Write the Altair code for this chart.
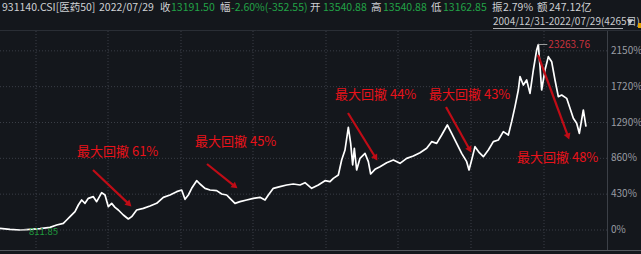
import math
import altair as alt
import pandas as pd

# ---- data ----
years = [2005.00, 2005.30, 2005.60, 2005.90, 2006.20, 2006.50, 2006.70, 2006.90,
         2007.00, 2007.10, 2007.25, 2007.35, 2007.45, 2007.55, 2007.65, 2007.80, 2007.90,
         2008.05, 2008.15, 2008.25, 2008.35, 2008.45, 2008.55, 2008.70, 2008.85, 2008.95,
         2009.10, 2009.30, 2009.50, 2009.70, 2009.90,
         2010.10, 2010.30, 2010.45, 2010.55, 2010.65, 2010.75, 2010.90,
         2011.00, 2011.15, 2011.30, 2011.50, 2011.65, 2011.80, 2011.90,
         2012.05, 2012.20, 2012.40, 2012.60, 2012.80, 2012.95,
         2013.05, 2013.20, 2013.40, 2013.60, 2013.80,
         2014.00, 2014.15, 2014.35, 2014.55, 2014.75, 2014.90,
         2015.00, 2015.15, 2015.25, 2015.35, 2015.45, 2015.52, 2015.58, 2015.63, 2015.70, 2015.80, 2015.95,
         2016.05, 2016.12, 2016.25, 2016.40, 2016.60, 2016.80,
         2017.00, 2017.20, 2017.40, 2017.60, 2017.80, 2017.95,
         2018.10, 2018.25, 2018.42, 2018.55, 2018.70, 2018.85,
         2019.00, 2019.07, 2019.15, 2019.25, 2019.38, 2019.50, 2019.65, 2019.80, 2019.95,
         2020.10, 2020.25, 2020.35, 2020.45, 2020.55, 2020.60, 2020.70, 2020.80, 2020.90,
         2021.00, 2021.10, 2021.15, 2021.20, 2021.25, 2021.35, 2021.45, 2021.55, 2021.65, 2021.75, 2021.85,
         2022.00, 2022.10, 2022.20, 2022.30, 2022.38, 2022.50, 2022.58]
pct = [20, 8, 0, 8, 16, 32, 60, 80,
       120, 160, 220, 300, 360, 320, 380, 400, 340,
       448, 420, 280, 320, 272, 240, 180, 132, 160,
       240, 260, 288, 320, 392,
       420, 460, 480, 368, 420, 500, 592,
       552, 500, 480, 472, 432, 420, 380,
       320, 340, 360, 380, 392, 360,
       420, 500, 520, 540, 552,
       540, 568, 500, 540, 592, 580,
       620, 660, 840, 960, 1232, 1040, 780, 980, 720, 860, 920,
       820, 672, 728, 760, 808, 840,
       800, 860, 888, 928, 980, 1060,
       1040, 1140, 1260, 1160, 1040, 920,
       820, 720, 840, 1000, 928, 880, 960, 1060, 1080,
       1180, 1140, 1300, 1480, 1680, 1840, 1740, 1800, 1640,
       1920, 2160, 2226, 1960, 1680, 1920, 2080, 2020, 1800, 1600, 1620,
       1580, 1460, 1340, 1280, 1160, 1440, 1240]

tick_values = [0, 430, 860, 1290, 1720, 2150]
tick_labels = ["0%", "430%", "860%", "1290%", "1720%", "2150%"]
vgrid_years = [2006.08, 2008.24, 2010.43, 2012.59, 2014.78, 2016.94, 2019.13, 2021.32]

dd_labels = ["最大回撤 61%", "最大回撤 45%", "最大回撤 44%", "最大回撤 43%", "最大回撤 48%"]
dd_label_x = [2007.31, 2010.85, 2015.05, 2017.87, 2020.51]
dd_label_y = [936, 1056, 1620, 1620, 864]
arrow_x1 = [2007.79, 2011.21, 2015.44, 2018.38, 2021.14]
arrow_y1 = [720, 792, 1404, 1476, 2100]
arrow_x2 = [2008.93, 2012.11, 2016.31, 2019.13, 2022.07]
arrow_y2 = [288, 504, 840, 936, 1092]

peak_year, peak_pct, peak_text = 2021.15, 2226, "23263.76"
min_year, min_pct, min_text = 2005.60, 0, "811.85"

# ---- layout ----
W, H = 641, 254
X0, X1 = 2005.0, 2005.0 + 641 * 0.03
Y0, Y1 = -288, 2760
XPX = W / (X1 - X0)          # px per year
YPX = H / (Y1 - Y0)          # px per percent

FONT = "Noto Sans CJK SC"
BG = "#14171c"
GRID = "#3a3e46"

xs = alt.Scale(domain=[X0, X1], nice=False, zero=False)
ys = alt.Scale(domain=[Y0, Y1], nice=False, zero=False)

series = pd.DataFrame({"year": years, "pct": pct})

hgrid = alt.Chart(pd.DataFrame({"v": tick_values})).mark_rule(
    color=GRID, strokeDash=[1, 2], strokeWidth=1
).encode(y=alt.Y("v:Q", scale=ys, axis=None), x=alt.value(0), x2=alt.value(607))

vgrid = alt.Chart(pd.DataFrame({"v": vgrid_years})).mark_rule(
    color=GRID, strokeDash=[1, 2], strokeWidth=1
).encode(x=alt.X("v:Q", scale=xs, axis=None), y=alt.value(31), y2=alt.value(250))

frame_top = alt.Chart(pd.DataFrame({"a": [0]})).mark_rule(color="#2a2e35").encode(
    x=alt.value(0), x2=alt.value(641), y=alt.value(30.5))
frame_bottom = alt.Chart(pd.DataFrame({"a": [0]})).mark_rule(color="#55585e").encode(
    x=alt.value(0), x2=alt.value(641), y=alt.value(250.5))
divider = alt.Chart(pd.DataFrame({"a": [0]})).mark_rule(color="#3c4047").encode(
    x=alt.value(607.5), y=alt.value(31), y2=alt.value(250))

ylabels = alt.Chart(pd.DataFrame({"v": tick_values, "t": tick_labels})).mark_text(
    align="left", baseline="middle", font=FONT, fontSize=10, color="#9a9da3"
).encode(y=alt.Y("v:Q", scale=ys, axis=None), x=alt.value(611), text="t:N")

line = alt.Chart(series).mark_line(color="#ffffff", strokeWidth=1.7, strokeJoin="round").encode(
    x=alt.X("year:Q", scale=xs, axis=None), y=alt.Y("pct:Q", scale=ys, axis=None))

# arrows
rows = []
for i in range(len(arrow_x1)):
    dx = (arrow_x2[i] - arrow_x1[i]) * XPX
    dy = (arrow_y2[i] - arrow_y1[i]) * YPX
    L = math.hypot(dx, dy)
    ux, uy = dx / L, dy / L
    back = 3.5
    cx = arrow_x2[i] - ux * back / XPX
    cy = arrow_y2[i] - uy * back / YPX
    ang = math.degrees(math.atan2(dx, dy)) % 360
    rows.append({"x1": arrow_x1[i], "y1": arrow_y1[i], "x2": cx, "y2": cy, "ang": ang})
arr = pd.DataFrame(rows)
ARROW = "#c00c16"
shafts = alt.Chart(arr).mark_rule(color=ARROW, strokeWidth=2.2).encode(
    x=alt.X("x1:Q", scale=xs, axis=None), y=alt.Y("y1:Q", scale=ys, axis=None),
    x2="x2:Q", y2="y2:Q")
heads = alt.Chart(arr).mark_point(shape="triangle", filled=True, color=ARROW, size=50, opacity=1).encode(
    x=alt.X("x2:Q", scale=xs, axis=None), y=alt.Y("y2:Q", scale=ys, axis=None),
    angle=alt.Angle("ang:Q", scale=None))

dd = alt.Chart(pd.DataFrame({"x": dd_label_x, "y": dd_label_y, "t": dd_labels})).mark_text(
    align="left", baseline="middle", font=FONT, fontSize=13, color="#e8121a"
).encode(x=alt.X("x:Q", scale=xs, axis=None), y=alt.Y("y:Q", scale=ys, axis=None), text="t:N")

peak_df = pd.DataFrame({"x": [peak_year], "x2": [peak_year + 0.27], "y": [peak_pct], "t": [peak_text]})
peak_rule = alt.Chart(peak_df).mark_rule(color="#9a9a9a", strokeWidth=1).encode(
    x=alt.X("x:Q", scale=xs, axis=None), x2="x2:Q", y=alt.Y("y:Q", scale=ys, axis=None))
peak_lbl = alt.Chart(peak_df).mark_text(
    align="left", baseline="middle", font=FONT, fontSize=10, color="#c8323c", dx=10
).encode(x=alt.X("x:Q", scale=xs, axis=None), y=alt.Y("y:Q", scale=ys, axis=None), text="t:N")

min_df = pd.DataFrame({"x": [min_year], "x2": [min_year + 0.22], "y": [min_pct], "t": [min_text]})
min_rule = alt.Chart(min_df).mark_rule(color="#8a8a8a", strokeWidth=1).encode(
    x=alt.X("x:Q", scale=xs, axis=None), x2="x2:Q", y=alt.Y("y:Q", scale=ys, axis=None))
min_lbl = alt.Chart(min_df).mark_text(
    align="left", baseline="middle", font=FONT, fontSize=9.5, color="#1f9a3c", dx=9, dy=2
).encode(x=alt.X("x:Q", scale=xs, axis=None), y=alt.Y("y:Q", scale=ys, axis=None), text="t:N")

# header texts
LBL = "#cfd1d4"
GRN = "#22a347"
header_items = [
    ("931140.CSI[医药50]", 2, LBL), ("2022/07/29", 99, LBL),
    ("收", 160, LBL), ("13191.50", 171, GRN),
    ("幅", 220, LBL), ("-2.60%(-352.55)", 231, GRN),
    ("开", 310, LBL), ("13540.88", 323, GRN),
    ("高", 371, LBL), ("13540.88", 383, GRN),
    ("低", 431, LBL), ("13162.85", 443, GRN),
    ("振", 492, LBL), ("2.79%", 503, LBL),
    ("额", 537, LBL), ("247.12亿", 549, LBL),
]
header_layers = []
for txt, px, col in header_items:
    header_layers.append(
        alt.Chart(pd.DataFrame({"t": [txt]})).mark_text(
            align="left", baseline="middle", font=FONT, fontSize=10.5, color=col
        ).encode(x=alt.value(px), y=alt.value(8), text="t:N"))
range_txt = alt.Chart(pd.DataFrame({"t": ["2004/12/31-2022/07/29(4265日)"]})).mark_text(
    align="left", baseline="middle", font=FONT, fontSize=10, color="#c8cacd"
).encode(x=alt.value(493), y=alt.value(22), text="t:N")
range_ul = alt.Chart(pd.DataFrame({"a": [0]})).mark_rule(color="#b0b2b5").encode(
    x=alt.value(493), x2=alt.value(623), y=alt.value(28.5))
tri = alt.Chart(pd.DataFrame({"a": [0]})).mark_point(
    shape="triangle-down", filled=True, color="#c8cacd", size=40, opacity=1
).encode(x=alt.value(630), y=alt.value(22))
orange = alt.Chart(pd.DataFrame({"a": [0]})).mark_rect(color="#e0a000").encode(
    x=alt.value(638), x2=alt.value(641), y=alt.value(23), y2=alt.value(28))

chart = alt.layer(
    hgrid, vgrid, frame_top, frame_bottom, divider, ylabels,
    line, shafts, heads, dd, peak_rule, peak_lbl, min_rule, min_lbl,
    *header_layers, range_txt, range_ul, tri, orange
).properties(
    width=W, height=H, padding=0, autosize=alt.AutoSizeParams(type="none"), background=BG
).configure_view(stroke=None)

chart.save("out.html", embed_options={"renderer": "svg", "actions": False})
